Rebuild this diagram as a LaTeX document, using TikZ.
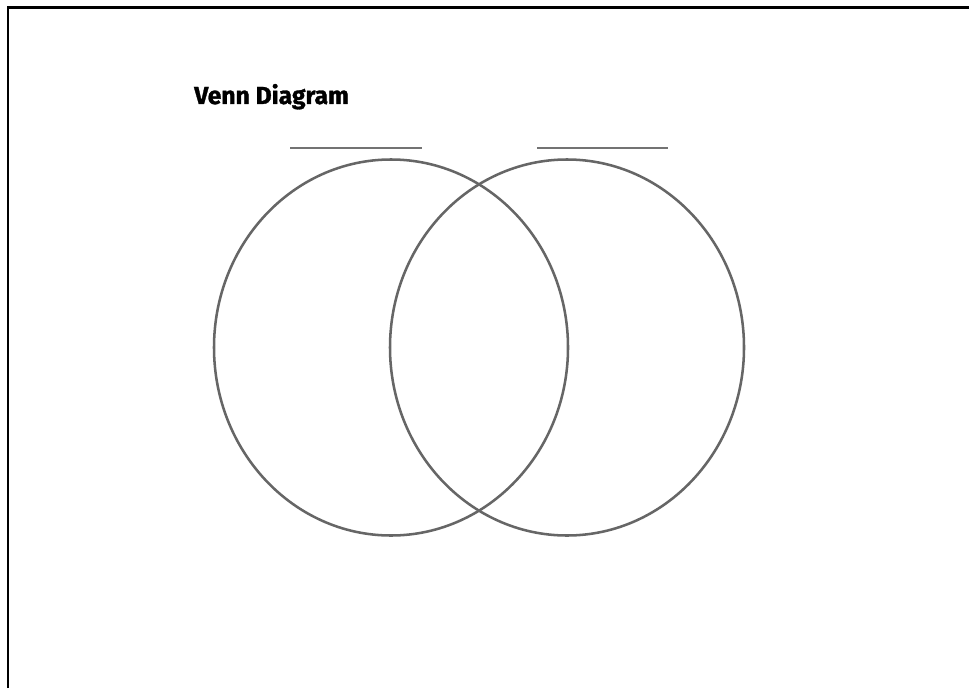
\documentclass[tikz,border=0pt]{standalone}
\usepackage{fontspec}
\setmainfont{Fira Sans}
\newfontfamily\titlefont{Fira Sans Bold}[FakeBold=1.2]
\begin{document}
\begin{tikzpicture}[x=0.75pt,y=-0.75pt,
  frame/.style={line width=1.6pt,black},
  venn/.style={line width=1.9pt,draw=black!60},
  blank/.style={line width=1pt,draw=black!55}]
\useasboundingbox (0,0) rectangle (969,688);
\fill[white] (0,0) rectangle (969,688);
\draw[frame] (8,688) -- (8,7.5) -- (969,7.5);
\node[anchor=base west,inner sep=0pt,font=\titlefont\fontsize{18.5}{22}\selectfont] (title) at (194,104) {Venn Diagram};
\draw[blank] (290,148) -- (422,148);
\draw[blank] (537,148) -- (668,148);
\draw[venn] (391,347.5) ellipse [x radius=177,y radius=188];
\draw[venn] (567,347.5) ellipse [x radius=177,y radius=188];
\end{tikzpicture}
\end{document}
